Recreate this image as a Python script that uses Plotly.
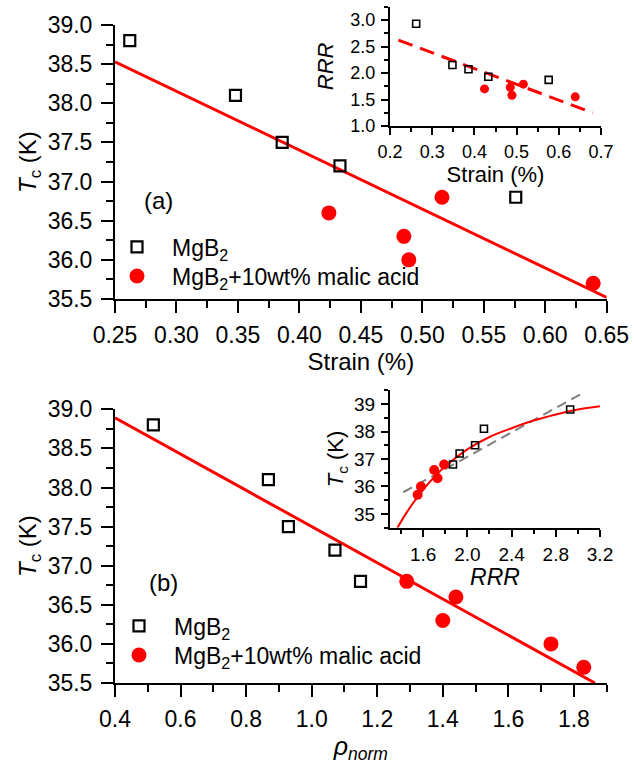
import plotly.graph_objects as go

# ---- data ----
# pure MgB2 samples
strain_mgb2 = [0.262, 0.348, 0.386, 0.433, 0.576]
tc_mgb2 = [38.8, 38.1, 37.5, 37.2, 36.8]
rrr_mgb2 = [2.93, 2.15, 2.07, 1.93, 1.87]
rho_mgb2 = [0.517, 0.868, 0.929, 1.071, 1.149]

# MgB2 + 10 wt% malic acid samples
strain_malic = [0.424, 0.485, 0.489, 0.516, 0.639]
tc_malic = [36.6, 36.3, 36.0, 36.8, 35.7]
rrr_malic = [1.70, 1.73, 1.58, 1.79, 1.55]
rho_malic = [1.44, 1.40, 1.73, 1.29, 1.83]

# linear fits (end points)
fit_strain_x = [0.25, 0.65]
fit_strain_tc = [38.53, 35.52]
fit_rho_x = [0.40, 1.864]
fit_rho_tc = [38.89, 35.50]
fit_rrr_strain_x = [0.22, 0.68]
fit_rrr_strain_y = [2.62, 1.25]
fit_tc_rrr_lin_x = [1.42, 3.066]
fit_tc_rrr_lin_y = [35.79, 39.45]

# saturating fit of Tc vs RRR
curve_rrr = [1.367, 1.45, 1.55, 1.65, 1.75, 1.85, 2.0, 2.2, 2.4, 2.6, 2.8, 3.0, 3.2]
curve_tc = [34.5, 35.05, 35.62, 36.12, 36.55, 36.9, 37.35, 37.8, 38.12, 38.4, 38.62, 38.8, 38.92]

FONT = "Liberation Sans, Arial, sans-serif"
RED = "#ff0000"
W, H = 634, 769

name_mgb2 = "MgB<sub>2</sub>"
name_malic = "MgB<sub>2</sub>+10wt% malic acid"


def px_x(a, b):
    return [a / W, b / W]


def px_y(top, bottom):
    return [1 - bottom / H, 1 - top / H]


fig = go.Figure()

# ---- panel (a): Tc vs strain ----
fig.add_trace(go.Scatter(x=fit_strain_x, y=fit_strain_tc, mode="lines",
                         line=dict(color=RED, width=3), showlegend=False,
                         xaxis="x", yaxis="y"))
fig.add_trace(go.Scatter(x=strain_mgb2, y=tc_mgb2, mode="markers", name=name_mgb2,
                         marker=dict(symbol="square-open", size=11, color="black",
                                     line=dict(width=2.2, color="black")),
                         xaxis="x", yaxis="y", legend="legend"))
fig.add_trace(go.Scatter(x=strain_malic, y=tc_malic, mode="markers", name=name_malic,
                         marker=dict(symbol="circle", size=15, color=RED),
                         xaxis="x", yaxis="y", legend="legend2"))

# ---- inset (a): RRR vs strain ----
fig.add_trace(go.Scatter(x=fit_rrr_strain_x, y=fit_rrr_strain_y, mode="lines",
                         line=dict(color=RED, width=3, dash="15px,8px"), showlegend=False,
                         xaxis="x2", yaxis="y2"))
fig.add_trace(go.Scatter(x=strain_mgb2, y=rrr_mgb2, mode="markers", showlegend=False,
                         marker=dict(symbol="square-open", size=7, color="black",
                                     line=dict(width=1.6, color="black")),
                         xaxis="x2", yaxis="y2"))
fig.add_trace(go.Scatter(x=strain_malic, y=rrr_malic, mode="markers", showlegend=False,
                         marker=dict(symbol="circle", size=9, color=RED),
                         xaxis="x2", yaxis="y2"))

# ---- panel (b): Tc vs normalized resistivity ----
fig.add_trace(go.Scatter(x=fit_rho_x, y=fit_rho_tc, mode="lines",
                         line=dict(color=RED, width=3), showlegend=False,
                         xaxis="x3", yaxis="y3"))
fig.add_trace(go.Scatter(x=rho_mgb2, y=tc_mgb2, mode="markers", name=name_mgb2,
                         marker=dict(symbol="square-open", size=11, color="black",
                                     line=dict(width=2.2, color="black")),
                         xaxis="x3", yaxis="y3", legend="legend3"))
fig.add_trace(go.Scatter(x=rho_malic, y=tc_malic, mode="markers", name=name_malic,
                         marker=dict(symbol="circle", size=15, color=RED),
                         xaxis="x3", yaxis="y3", legend="legend4"))

# ---- inset (b): Tc vs RRR ----
fig.add_trace(go.Scatter(x=fit_tc_rrr_lin_x, y=fit_tc_rrr_lin_y, mode="lines",
                         line=dict(color="#808080", width=2, dash="10px,6px"), showlegend=False,
                         xaxis="x4", yaxis="y4"))
fig.add_trace(go.Scatter(x=curve_rrr, y=curve_tc, mode="lines", line_shape="spline",
                         line=dict(color=RED, width=2), showlegend=False,
                         xaxis="x4", yaxis="y4"))
fig.add_trace(go.Scatter(x=rrr_mgb2, y=tc_mgb2, mode="markers", showlegend=False,
                         marker=dict(symbol="square-open", size=7, color="black",
                                     line=dict(width=1.6, color="black")),
                         xaxis="x4", yaxis="y4"))
fig.add_trace(go.Scatter(x=rrr_malic, y=tc_malic, mode="markers", showlegend=False,
                         marker=dict(symbol="circle", size=10, color=RED),
                         xaxis="x4", yaxis="y4"))


def axis(domain, rng, tick0, dtick, minor0, minor_dtick, fmt, title, anchor,
         size, ticklen, tfont, standoff, lblgap):
    return dict(
        domain=domain, range=rng, anchor=anchor, autorange=False,
        showline=True, linecolor="black", linewidth=2, mirror=False,
        ticks="outside", ticklen=ticklen, tickwidth=2, tickcolor="black",
        tick0=tick0, dtick=dtick, tickformat=fmt, ticklabelstandoff=lblgap,
        tickfont=dict(family=FONT, size=size, color="black"),
        minor=dict(ticks="outside", ticklen=ticklen // 2 + 1, tickwidth=2,
                   tickcolor="black", dtick=minor_dtick, tick0=minor0, showgrid=False),
        showgrid=False, zeroline=False, automargin=False,
        title=dict(text=title, font=dict(family=FONT, size=tfont, color="black"),
                   standoff=standoff),
    )


def legend_box(left, center):
    # one entry per legend, vertically centred on the given row
    return dict(x=left / W, y=1 - center / H, xanchor="left", yanchor="middle",
                bgcolor="rgba(0,0,0,0)", font=dict(family=FONT, size=23, color="black"),
                itemwidth=60, tracegroupgap=0)


TC_TITLE = "<i>T</i><sub>c</sub> (K)"

layout = dict(
    width=W, height=H,
    margin=dict(l=0, r=0, t=0, b=0),
    paper_bgcolor="white", plot_bgcolor="rgba(0,0,0,0)",
    font=dict(family=FONT, color="black"),
    xaxis=axis(px_x(115, 606.7), [0.25, 0.65], 0.25, 0.05, 0.25, 0.025, ".2f",
               "Strain (%)", "y", 23, 12, 24, 7, 2),
    yaxis=axis(px_y(25, 299), [35.5, 39.0], 35.5, 0.5, 35.5, 0.25, ".1f",
               TC_TITLE, "x", 23, 12, 24, 4, 4),
    xaxis2=axis(px_x(390, 601), [0.2, 0.7], 0.2, 0.1, 0.2, 0.05, ".1f",
                "Strain (%)", "y2", 18, 7, 22, 4, 1),
    yaxis2=axis(px_y(6.75, 126), [1.0, 3.25], 1.0, 0.5, 1.0, 0.25, ".1f",
                "<i>RRR</i>", "x2", 18, 7, 22, 11, 2),
    xaxis3=axis(px_x(115, 606.7), [0.4, 1.9], 0.4, 0.2, 0.4, 0.1, ".1f",
                "<i>ρ</i><sub><i>norm</i></sub>", "y3", 23, 12, 25, 4, 2),
    yaxis3=axis(px_y(409.3, 683), [35.5, 39.0], 35.5, 0.5, 35.5, 0.25, ".1f",
                TC_TITLE, "x3", 23, 12, 24, 4, 4),
    xaxis4=axis(px_x(390, 600), [1.3, 3.2], 1.6, 0.4, 1.4, 0.2, ".1f",
                "<i>RRR</i>", "y4", 19, 7, 23, 5, 1),
    yaxis4=axis(px_y(390.3, 527.7), [34.5, 39.5], 35, 1, 34.5, 0.5, "d",
                TC_TITLE, "x4", 19, 7, 22, 4, 2),
    legend=legend_box(102, 247),
    legend2=legend_box(102, 276),
    legend3=legend_box(104, 626),
    legend4=legend_box(104, 655),
    annotations=[
        dict(text="(a)", x=158 / W, y=1 - 200 / H, xref="paper", yref="paper",
             xanchor="center", yanchor="middle", showarrow=False,
             font=dict(family=FONT, size=24, color="black")),
        dict(text="(b)", x=163 / W, y=1 - 582 / H, xref="paper", yref="paper",
             xanchor="center", yanchor="middle", showarrow=False,
             font=dict(family=FONT, size=24, color="black")),
    ],
)

fig.update_layout(**layout)
fig.write_html("out.html")
